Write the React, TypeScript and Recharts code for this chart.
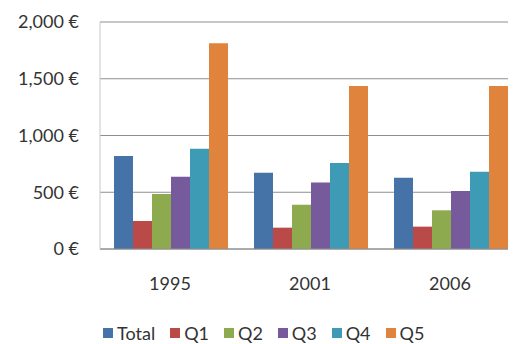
import React from 'react';
import { BarChart, Bar, XAxis, YAxis, CartesianGrid, Legend } from 'recharts';

const years = ['1995', '2001', '2006'];
const total = [819, 672, 628];
const q1 = [247, 188, 197];
const q2 = [485, 390, 341];
const q3 = [637, 587, 511];
const q4 = [884, 758, 681];
const q5 = [1812, 1436, 1436];
const yTicks = [0, 500, 1000, 1500, 2000];

const seriesNames = ['Total', 'Q1', 'Q2', 'Q3', 'Q4', 'Q5'];
const seriesColors = ['#4572A7', '#B94A48', '#8DAA4E', '#765A9B', '#3E9BB5', '#E0843D'];

const data = years.map((y, i) => ({
  year: y,
  Total: total[i],
  Q1: q1[i],
  Q2: q2[i],
  Q3: q3[i],
  Q4: q4[i],
  Q5: q5[i],
}));

const fmt = (v: number) => `${v.toLocaleString('en-US')} €`;
const FONT = 'Lato, "DejaVu Sans", sans-serif';

const LegendContent = () => (
  <div style={{ display: 'flex', alignItems: 'center', fontFamily: FONT, fontSize: 18, color: '#333' }}>
    {seriesNames.map((n, i) => (
      <div key={n} style={{ display: 'flex', alignItems: 'center', marginRight: 15 }}>
        <span style={{ display: 'inline-block', width: 10, height: 10, background: seriesColors[i], marginRight: 4 }} />
        <span>{n}</span>
      </div>
    ))}
  </div>
);

export default function App() {
  return (
    <div style={{ width: 508, height: 336, overflow: 'hidden', position: 'relative' }}>
      <BarChart
        width={512}
        height={336}
        data={data}
        margin={{ top: 14, right: 0, left: 0, bottom: 13 }}
        barCategoryGap="10%"
        barGap={0}
      >
        <CartesianGrid vertical={false} stroke="#8e8e8e" />
        <XAxis
          dataKey="year"
          axisLine={{ stroke: '#8e8e8e' }}
          tickLine={false}
          tickSize={0}
          tickMargin={28}
          height={60}
          tick={{ fill: '#333', fontSize: 18, fontFamily: FONT }}
        />
        <YAxis
          domain={[0, 2000]}
          ticks={yTicks}
          tickFormatter={fmt}
          axisLine={{ stroke: '#c8c8c8' }}
          tickLine={false}
          tickSize={6}
          tickMargin={15}
          width={92}
          tick={{ fill: '#333', fontSize: 18, fontFamily: FONT }}
        />
        <Legend
          content={<LegendContent />}
          wrapperStyle={{ top: 314, left: 95, width: 'auto' }}
        />
        {seriesNames.map((n, i) => (
          <Bar key={n} dataKey={n} fill={seriesColors[i]} isAnimationActive={false} />
        ))}
      </BarChart>
    </div>
  );
}
